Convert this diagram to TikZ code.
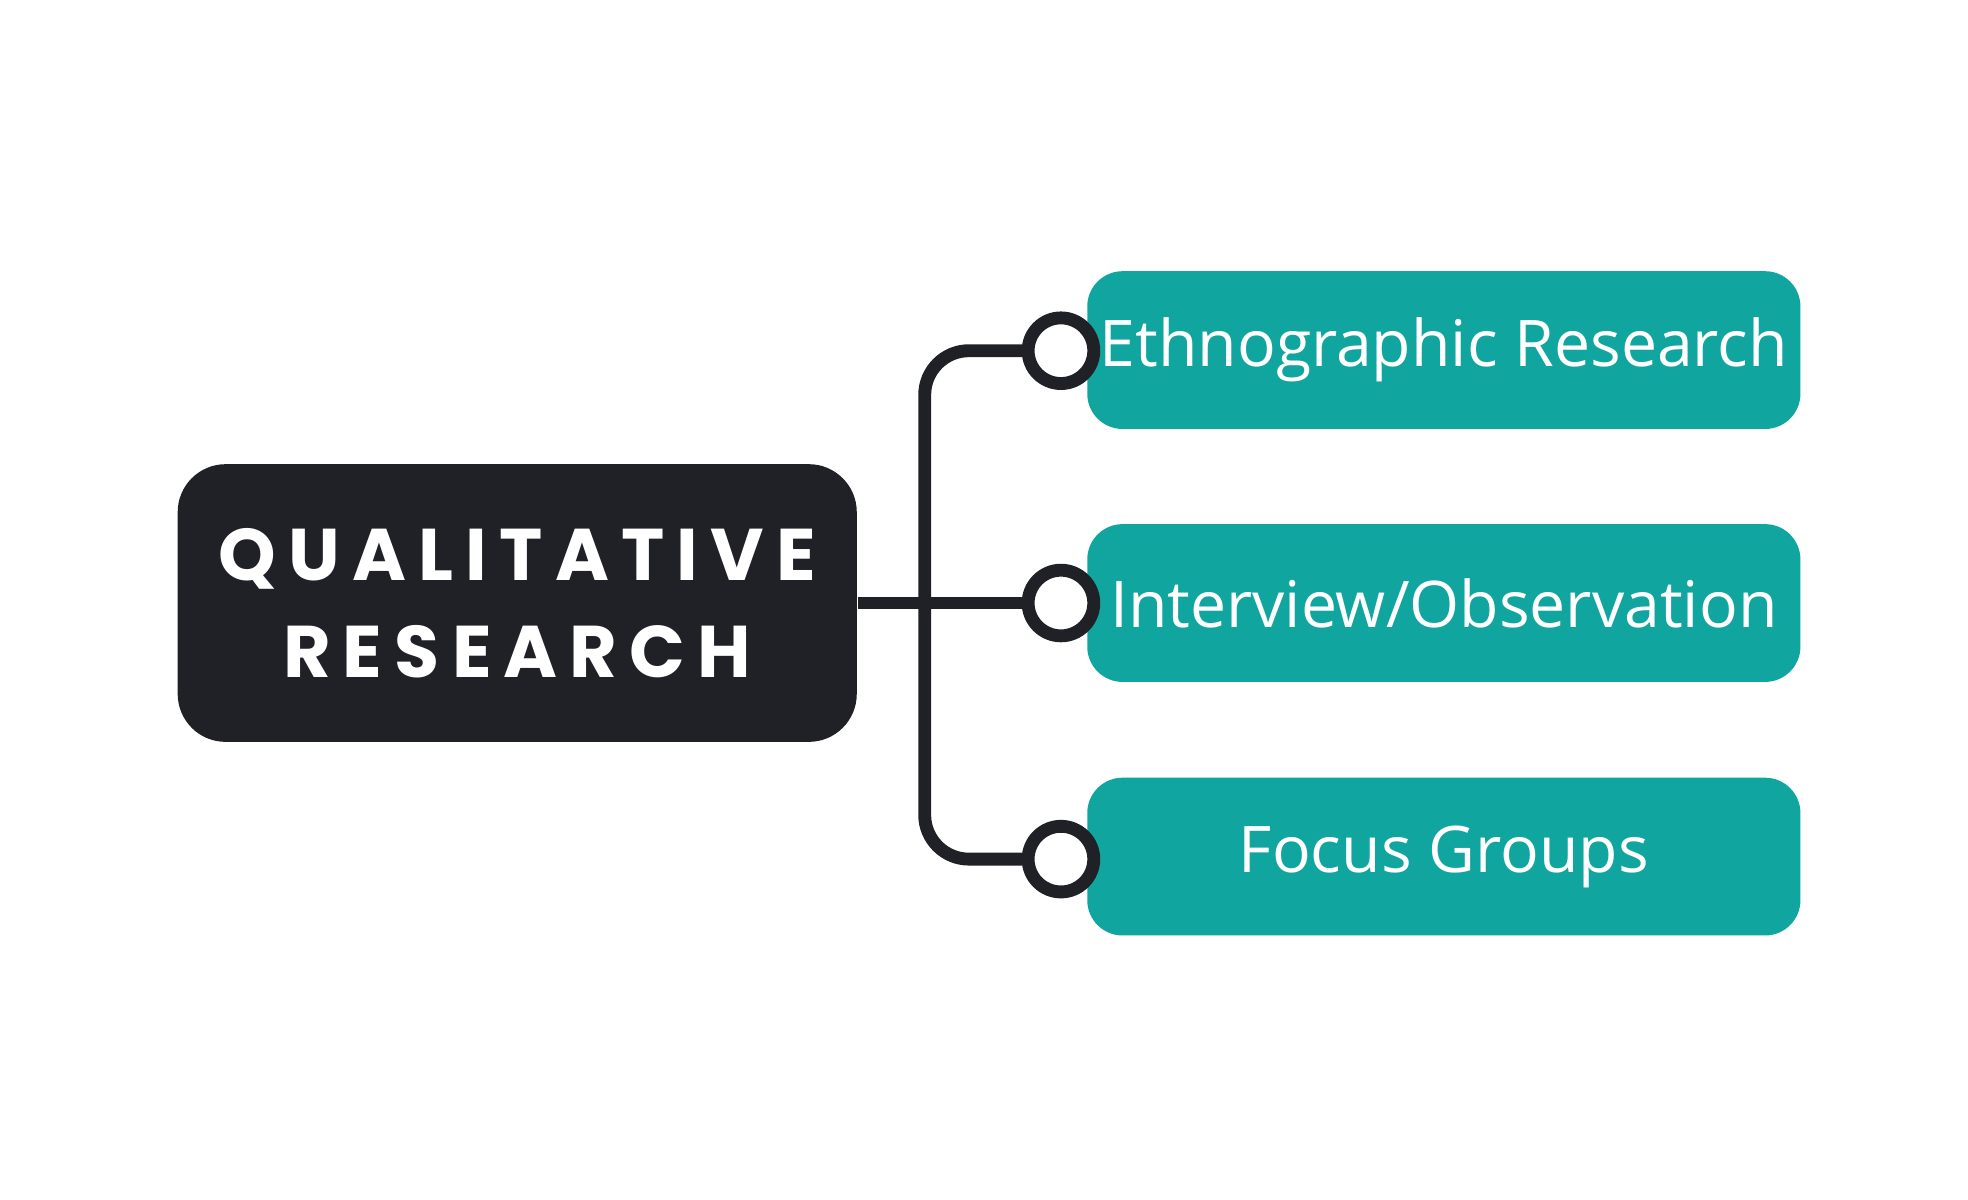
\documentclass[tikz,border=0pt]{standalone}
\usepackage{fontspec}
\setmainfont{Open Sans}
\newfontfamily\headfont{Poppins}
\definecolor{dark}{HTML}{202127}
\definecolor{teal}{HTML}{10A59F}
\begin{document}
\begin{tikzpicture}[x=0.01cm,y=-0.01cm,
  leaf/.style={fill=teal,rounded corners=0.28cm,minimum width=5.65cm,minimum height=1.25cm,text=white,font=\fontsize{14.5}{17}\selectfont,inner sep=0},
  dot/.style={circle,draw=dark,line width=2.9pt,fill=white,minimum size=0.52cm,inner sep=0},
  conn/.style={draw=dark,line width=2.9pt,rounded corners=0.35cm}]
\useasboundingbox (0,0) rectangle (1560,951);
\node[fill=dark,rounded corners=0.38cm,minimum width=5.38cm,minimum height=2.2cm,text=white,align=center,
  font=\headfont\bfseries\fontsize{16.5}{20}\selectfont] (root) at (410,478) {Q\,U\,A\,L\,I\,T\,A\,T\,I\,V\,E\\[2pt] R\,E\,S\,E\,A\,R\,C\,H};
\node[leaf] (a) at (1144.5,277.5) {Ethnographic Research};
\node[leaf] (b) at (1144.5,478) {Interview/Observation};
\node[leaf] (c) at (1144.5,679) {Focus Groups};
\coordinate (j) at (733,478);
\draw[conn] (root.east) -- (810,478);
\draw[conn] (810,278) -- (733,278) -- (733,681) -- (810,681);
\node[dot] (ca) at (841,278) {};
\node[dot] (cb) at (841,478) {};
\node[dot] (cc) at (841,681) {};
\end{tikzpicture}
\end{document}
